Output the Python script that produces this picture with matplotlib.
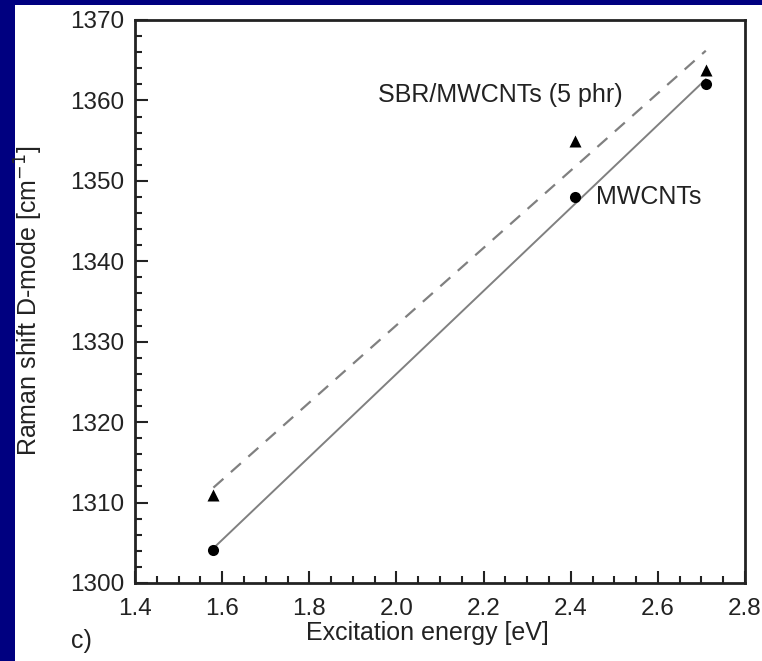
import matplotlib.pyplot as plt
import numpy as np
from matplotlib.ticker import MultipleLocator

plt.rcParams['font.family'] = ['Liberation Sans', 'DejaVu Sans']

# data
energia = [1.58, 2.41, 2.71]
sbr_mwcnt = [1311.0, 1355.0, 1363.8]   # triangulos
mwcnt = [1304.1, 1348.0, 1362.0]       # circulos

fig = plt.figure(figsize=(7.62, 6.61), dpi=100)
fig.patch.set_facecolor('#000080')
# white panel
fondo = plt.Rectangle((15/762, 0), 1, 1 - 5/661, transform=fig.transFigure,
                      facecolor='white', edgecolor='none', zorder=-5)
fig.add_artist(fondo)

ax = fig.add_axes([135/762, 1 - 583/661, (745-135)/762, (583-20)/661])
ax.set_facecolor('white')

x = np.array(energia)
p1 = np.polyfit(x, sbr_mwcnt, 1)
p2 = np.polyfit(x, mwcnt, 1)
ax.plot(x[[0, -1]], np.polyval(p1, x[[0, -1]]), color='#808080', lw=1.6, ls=(0, (6, 4.5)))
ax.plot(x[[0, -1]], np.polyval(p2, x[[0, -1]]), color='#808080', lw=1.4)
ax.plot(x, sbr_mwcnt, '^', color='black', ms=8.5, mec='none')
ax.plot(x, mwcnt, 'o', color='black', ms=8, mec='none')

ax.text(1.957, 1360.7, 'SBR/MWCNTs (5 phr)', fontsize=18, va='center', color='#222222')
ax.text(2.457, 1348.0, 'MWCNTs', fontsize=18, va='center', color='#222222')

ax.set_xlim(1.4, 2.8)
ax.set_ylim(1300, 1370)
ax.xaxis.set_major_locator(MultipleLocator(0.2))
ax.xaxis.set_minor_locator(MultipleLocator(0.05))
ax.yaxis.set_major_locator(MultipleLocator(10))
ax.yaxis.set_minor_locator(MultipleLocator(2))
ax.xaxis.set_major_formatter(plt.FormatStrFormatter('%.1f'))
ax.tick_params(which='both', direction='in', colors='#222222', labelsize=17.5, width=1.5)
ax.tick_params(which='major', length=9)
ax.tick_params(which='minor', length=5)
ax.tick_params(axis='x', which='major', pad=11)
ax.tick_params(axis='y', which='major', pad=8)
for s in ax.spines.values():
    s.set_linewidth(2)
    s.set_color('#222222')

fig.text(427/762, 1 - 640/661, 'Excitation energy [eV]', fontsize=18, ha='center', va='baseline', color='#222222')
fig.text(29/762, 1 - 301/661, 'Raman shift D-mode [cm$^{-1}$]', fontsize=18, rotation=90,
         ha='center', va='center', color='#222222')
fig.text(71/762, 1 - 648/661, 'c)', fontsize=18, ha='left', va='baseline', color='#222222')

plt.savefig('out.png', dpi=100, facecolor=fig.get_facecolor())
